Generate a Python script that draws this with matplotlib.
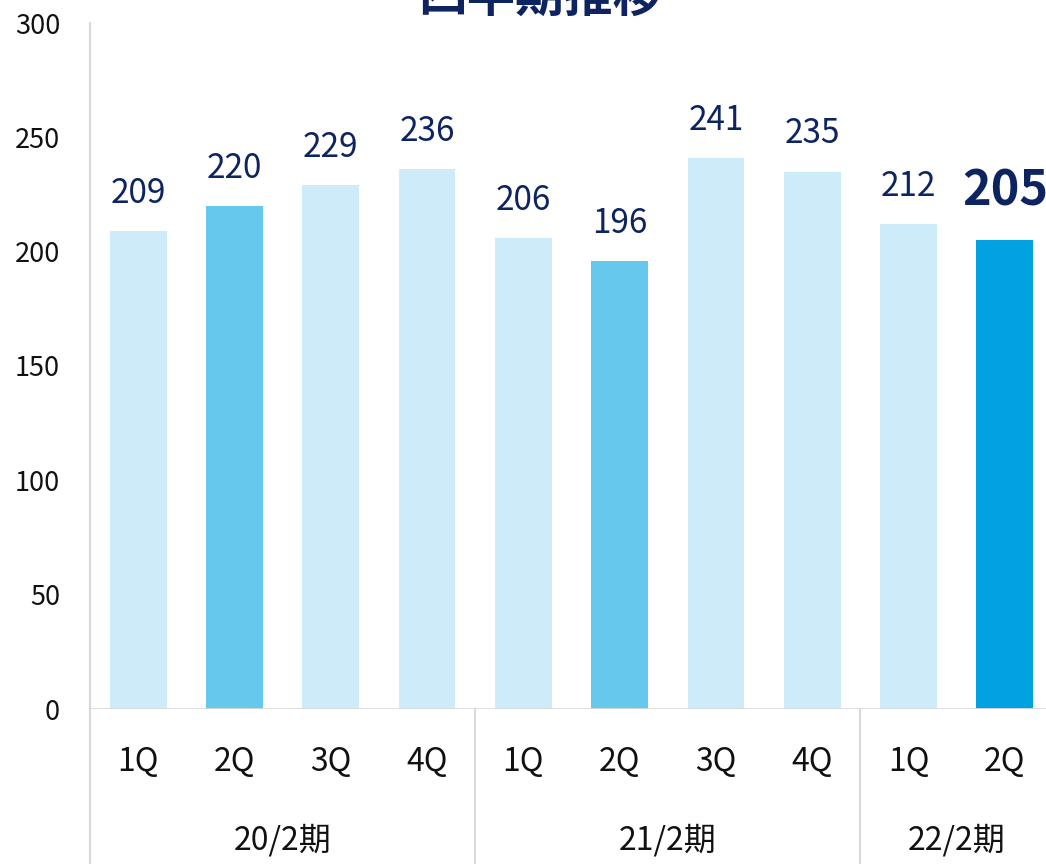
import matplotlib
matplotlib.use("Agg")
import matplotlib.pyplot as plt

plt.rcParams["font.family"] = ["Noto Sans CJK JP", "DejaVu Sans"]

# data
quarters = ["1Q", "2Q", "3Q", "4Q", "1Q", "2Q", "3Q", "4Q", "1Q", "2Q"]
values = [209, 220, 229, 236, 206, 196, 241, 235, 212, 205]
periods = ["20/2期", "21/2期", "22/2期"]
period_sizes = [4, 4, 2]
title = "四半期推移"

LIGHT = "#CDEBF8"
MID = "#67C8EE"
DARK = "#00A3E0"
NAVY = "#0E2461"
GRID = "#D9D9D9"

colors = [LIGHT, MID, LIGHT, LIGHT, LIGHT, MID, LIGHT, LIGHT, LIGHT, DARK]

W, H = 1046, 864
fig = plt.figure(figsize=(W / 100, H / 100), dpi=100)
ax = fig.add_axes([90 / W, (H - 709) / H, 963 / W, 686 / H])

x = list(range(len(values)))
ax.bar(x, values, width=0.59, color=colors, zorder=2)

ax.set_xlim(-0.5, len(values) - 0.5)
ax.set_ylim(0, 300)
ax.set_yticks(range(0, 301, 50))
ax.tick_params(axis="y", length=0, labelsize=19.5, pad=21.5, colors="#111111")
ax.set_xticks([])
for s in ax.spines.values():
    s.set_visible(False)

# axis lines
below = -(H - 709) / 686
ax.plot([-0.5, -0.5], [below, 1], transform=ax.get_xaxis_transform(),
        color=GRID, lw=1.5, clip_on=False)
ax.axhline(0, color=GRID, lw=2, zorder=3)

# group separators and labels
start = 0
for i, (name, n) in enumerate(zip(periods, period_sizes)):
    center = start + (n - 1) / 2
    ax.text(center, -131 / 686, name, transform=ax.get_xaxis_transform(),
            ha="center", va="center", fontsize=23, color="#111111")
    start += n
    if i < len(periods) - 1:
        ax.plot([start - 0.5, start - 0.5], [below, 0],
                transform=ax.get_xaxis_transform(),
                color=GRID, lw=1.5, clip_on=False)

for xi, q in zip(x, quarters):
    ax.text(xi, -53 / 686, q, transform=ax.get_xaxis_transform(),
            ha="center", va="center", fontsize=23, color="#111111")

# value labels
for xi, v in zip(x, values):
    last = xi == len(values) - 1
    ax.annotate(str(v), (xi, v), xytext=(0, 18 if last else 14.5),
                textcoords="offset points", ha="center", va="bottom",
                fontsize=35 if last else 24,
                fontweight="bold" if last else "normal", color=NAVY)

fig.text(540 / W, 1 - 12 / H, title, ha="center", va="baseline",
         fontsize=35, fontweight="bold", color=NAVY)

fig.savefig("out.png", dpi=100)
